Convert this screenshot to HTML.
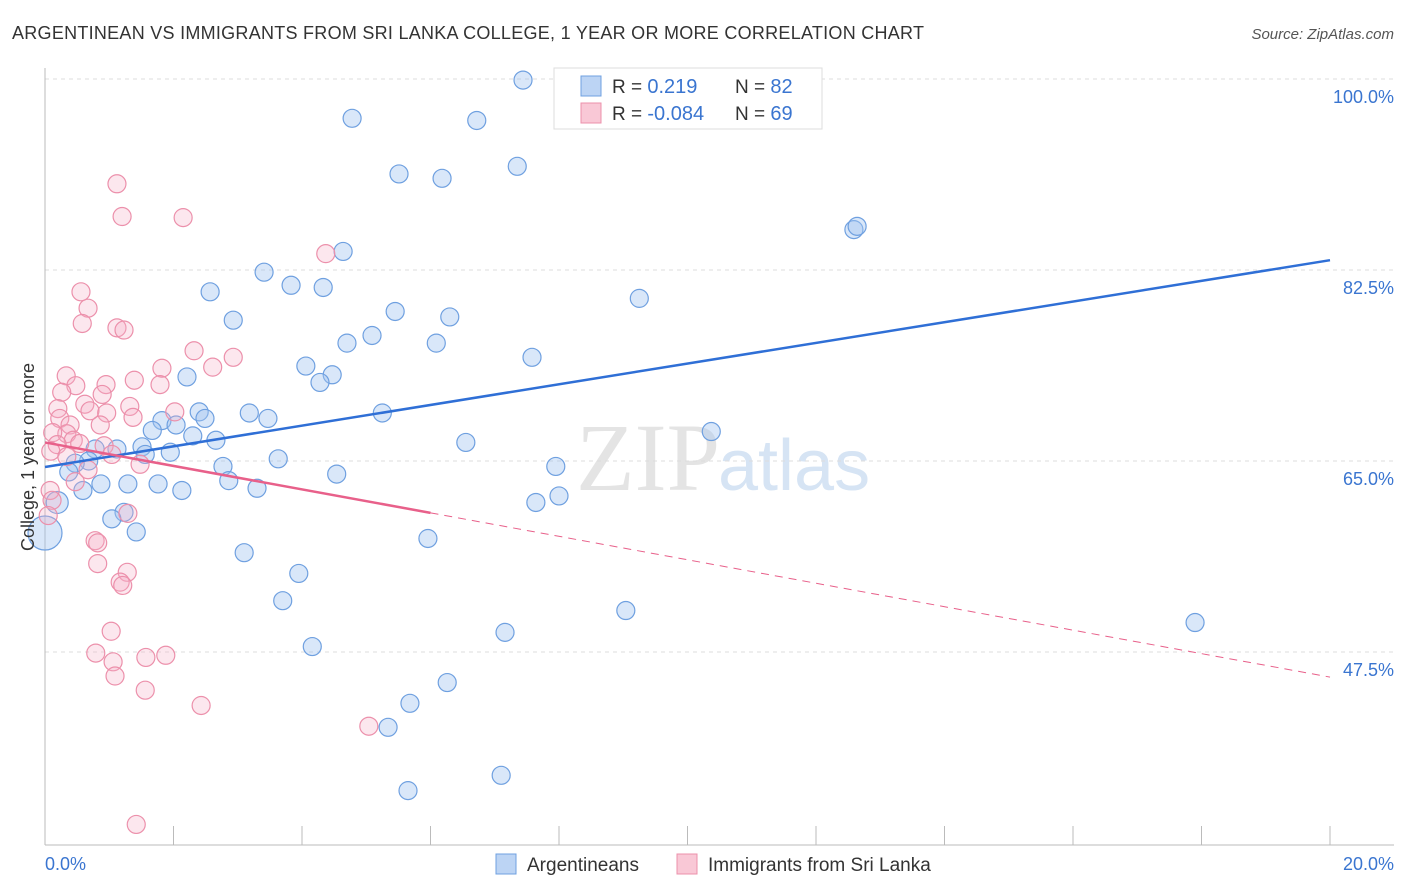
<!DOCTYPE html>
<html><head><meta charset="utf-8"><style>
body{margin:0;background:#fff;font-family:"Liberation Sans",sans-serif;}
svg{display:block}
</style></head><body>
<svg id="c" width="1406" height="892">
<text x="12" y="39" font-size="18" fill="#333" textLength="912">ARGENTINEAN VS IMMIGRANTS FROM SRI LANKA COLLEGE, 1 YEAR OR MORE CORRELATION CHART</text>
<text x="1394" y="39" font-size="15" fill="#555" font-style="italic" text-anchor="end">Source: ZipAtlas.com</text>
<text x="720" y="490" font-size="96" fill="#e4e4e4" text-anchor="end" font-family="Liberation Serif">ZIP</text>
<text x="718" y="490" font-size="72" fill="#d6e4f4">atlas</text>
<g id="grid"></g>
<g id="pts"></g>
<g id="lines"></g>
<text transform="translate(34,457) rotate(-90)" font-size="18" fill="#333" text-anchor="middle">College, 1 year or more</text>
<text x="45" y="870" font-size="18" fill="#3a75d0">0.0%</text>
<text x="1394" y="870" font-size="18" fill="#3a75d0" text-anchor="end">20.0%</text>
<g>
<rect x="554" y="68" width="268" height="61" fill="#fff" stroke="#ddd"/>
<rect x="581" y="76" width="20" height="20" fill="#bcd4f4" stroke="#6fa0e0"/>
<rect x="581" y="103" width="20" height="20" fill="#f9c8d6" stroke="#ec90ab"/>
<text x="612" y="93" font-size="19" fill="#333">R = <tspan fill="#3a75d0" font-size="20">0.219</tspan><tspan x="735">N = </tspan><tspan fill="#3a75d0" font-size="20">82</tspan></text>
<text x="612" y="120" font-size="19" fill="#333">R = <tspan fill="#3a75d0" font-size="20">-0.084</tspan><tspan x="735">N = </tspan><tspan fill="#3a75d0" font-size="20">69</tspan></text>
</g>
<g>
<rect x="496" y="854" width="20" height="20" fill="#bcd4f4" stroke="#6fa0e0"/>
<text x="527" y="871" font-size="19" fill="#333">Argentineans</text>
<rect x="677" y="854" width="20" height="20" fill="#f9c8d6" stroke="#ec90ab"/>
<text x="708" y="871" font-size="19" fill="#333">Immigrants from Sri Lanka</text>
</g>
</svg>
<script>
const yTicks=[100,82.5,65,47.5];
const yTickLabels=["100.0%","82.5%","65.0%","47.5%"];
const xTicks=[0,2,4,6,8,10,12,14,16,18,20];
const blueX=[7.44,8.95,9.49,8.17,4.78,6.72,7.35,5.51,6.18,12.59,12.64,4.64,3.41,3.83,4.33,2.57,9.25,5.45,6.30,2.93,5.09,4.70,6.09,7.58,4.06,4.47,4.28,2.21,2.40,3.18,3.47,5.25,2.49,1.82,2.04,1.67,2.30,2.66,10.37,6.55,1.51,1.12,0.78,1.95,1.56,0.68,3.63,0.47,0.37,2.77,7.95,4.54,2.86,0.87,1.29,1.76,3.30,2.13,0.59,8.00,7.64,0.19,1.23,1.04,1.42,0,5.96,3.10,3.95,3.70,9.04,17.90,7.16,4.16,6.26,5.68,5.34,7.10,5.65];
const blueY=[99.9,99.9,99.9,97.0,96.4,96.2,92.0,91.3,90.9,86.2,86.5,84.2,82.3,81.1,80.9,80.5,79.9,78.7,78.2,77.9,76.5,75.8,75.8,74.5,73.7,72.9,72.2,72.7,69.5,69.4,68.9,69.4,68.9,68.7,68.3,67.8,67.3,66.9,67.7,66.7,66.3,66.1,66.1,65.8,65.6,65.0,65.2,64.8,64.0,64.5,64.5,63.8,63.2,62.9,62.9,62.9,62.5,62.3,62.3,61.8,61.2,61.2,60.3,59.7,58.5,58.4,57.9,56.6,54.7,52.2,51.3,50.2,49.3,48.0,44.7,42.8,40.6,36.2,34.8];
const pinkX=[1.12,1.20,2.15,4.37,0.56,0.67,0.58,1.12,1.23,2.32,2.93,2.61,1.82,0.33,1.39,1.79,0.48,0.95,0.26,0.89,0.62,1.32,0.20,0.70,2.02,0.96,0.23,1.37,0.86,0.39,0.34,0.12,0.44,0.54,0.19,0.92,0.09,1.04,0.34,1.48,0.67,0.47,0.08,0.11,1.29,0.05,0.78,0.82,0.82,1.28,1.17,1.21,1.03,0.79,1.06,1.57,1.88,1.09,1.56,2.43,5.04,1.42];
const pinkY=[90.4,87.4,87.3,84.0,80.5,79.0,77.6,77.2,77.0,75.1,74.5,73.6,73.5,72.8,72.4,72.0,71.9,72.0,71.3,71.1,70.2,70.0,69.8,69.6,69.5,69.4,68.9,69.0,68.3,68.3,67.5,67.6,66.9,66.6,66.5,66.4,65.9,65.6,65.4,64.7,64.2,63.1,62.3,61.4,60.2,60.0,57.7,57.5,55.6,54.8,53.9,53.6,49.4,47.4,46.6,47.0,47.2,45.3,44.0,42.6,40.7,31.7];
const blueFit=[64.45,83.4];
const pinkFit=[66.7,45.2];
const pinkSolidEnd=6;
const X=v=>45+v/20*1285, Y=v=>79+(100-v)/17.5*191;
const NS="http://www.w3.org/2000/svg";
function mk(t,a,p){const e=document.createElementNS(NS,t);for(const k in a)e.setAttribute(k,a[k]);p.appendChild(e);return e;}
const g=document.getElementById('grid');
yTicks.forEach((t,i)=>{
 const l=mk('line',{x1:45,x2:1394,y1:Y(t),y2:Y(t),stroke:'#ddd','stroke-dasharray':'4,4'},g);
 
 
 const tx=mk('text',{x:1394,y:Y(t)+24,'font-size':18,fill:'#3a75d0','text-anchor':'end'},g);
 tx.textContent=yTickLabels[i];
 
 
});
const ax=mk('line',{x1:45,x2:1394,y1:845,y2:845,stroke:'#bbb'},g);


const ay=mk('line',{x1:45,x2:45,y1:68,y2:845,stroke:'#bbb'},g);


xTicks.forEach(t=>{const l=mk('line',{x1:X(t),x2:X(t),y1:826,y2:845,stroke:'#bbb'},g);
 
 });
const p=document.getElementById('pts');
blueX.forEach((x,i)=>{const r=(x===0)?17:(x<0.2?11:9);
 const c=mk('circle',{cx:X(x),cy:Y(blueY[i]),r:r,fill:'rgba(160,196,240,0.4)',stroke:'#6fa0e0','stroke-width':1.2},p);
 
 });
pinkX.forEach((x,i)=>{const c=mk('circle',{cx:X(x),cy:Y(pinkY[i]),r:9,fill:'rgba(245,175,198,0.3)',stroke:'#ec90ab','stroke-width':1.2},p);
 
 });
const L=document.getElementById('lines');
const bl=mk('line',{x1:X(0),y1:Y(blueFit[0]),x2:X(20),y2:Y(blueFit[1]),stroke:'#2f6fd6','stroke-width':2.5},L);


const pe=pinkFit[0]+(pinkFit[1]-pinkFit[0])*pinkSolidEnd/20;
const pl=mk('line',{x1:X(0),y1:Y(pinkFit[0]),x2:X(pinkSolidEnd),y2:Y(pe),stroke:'#e8608a','stroke-width':2.5},L);


const pd=mk('line',{x1:X(pinkSolidEnd),y1:Y(pe),x2:X(20),y2:Y(pinkFit[1]),stroke:'#e8608a','stroke-width':1,'stroke-dasharray':'8,6'},L);


</script>
</body></html>
